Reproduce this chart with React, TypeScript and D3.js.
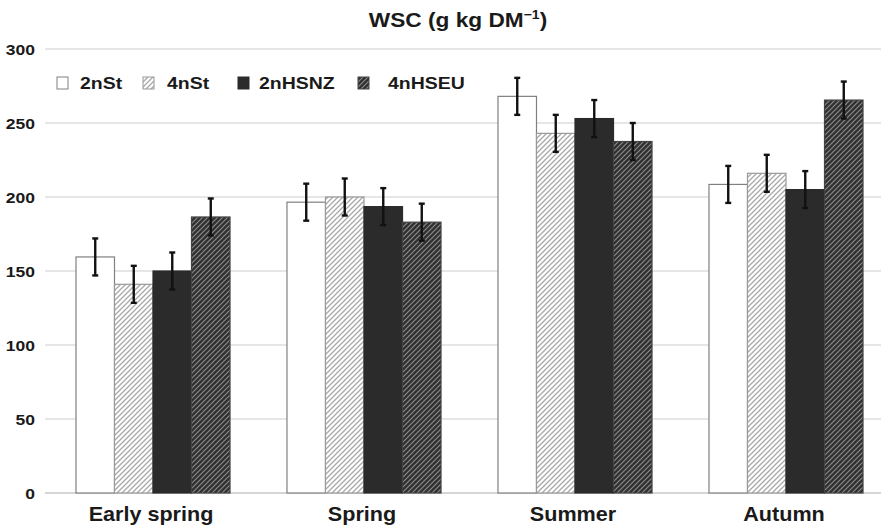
import { useEffect, useRef } from "react"
import * as d3 from "d3"

const categories = ["Early spring", "Spring", "Summer", "Autumn"]
const seriesNames = ["2nSt", "4nSt", "2nHSNZ", "4nHSEU"]
// values per series, in category order
const st2 = [159.5, 196.5, 268, 208.5]
const st4 = [141, 200, 243, 216]
const hsnz2 = [150, 193.5, 253, 205]
const hseu4 = [186.5, 183, 237.5, 265.5]
const errors = [12.5, 12.5, 12.5, 12.5]
const yTicks = [0, 50, 100, 150, 200, 250, 300]

const seriesValues = [st2, st4, hsnz2, hseu4]
const fills = ["#ffffff", "url(#hatchLight)", "#2b2b2b", "url(#hatchDark)"]
const strokes = ["#808080", "#9a9a9a", "#2b2b2b", "#444"]

export default function App() {
  const svgRef = useRef<SVGSVGElement>(null)

  useEffect(() => {
    if (!svgRef.current) return
    const svg = d3.select(svgRef.current)
    svg.selectAll("*").remove()

    const width = 881
    const font = "'Liberation Sans', Arial, sans-serif"

    const defs = svg.append("defs")
    const light = defs
      .append("pattern")
      .attr("id", "hatchLight")
      .attr("patternUnits", "userSpaceOnUse")
      .attr("width", 5)
      .attr("height", 5)
    light.append("rect").attr("width", 5).attr("height", 5).attr("fill", "#ffffff")
    light
      .append("path")
      .attr("d", "M0,5 L5,0 M-1,1 L1,-1 M4,6 L6,4")
      .attr("stroke", "#a8a8a8")
      .attr("stroke-width", 1.3)

    const dark = defs
      .append("pattern")
      .attr("id", "hatchDark")
      .attr("patternUnits", "userSpaceOnUse")
      .attr("width", 5)
      .attr("height", 5)
    dark.append("rect").attr("width", 5).attr("height", 5).attr("fill", "#303030")
    dark
      .append("path")
      .attr("d", "M0,5 L5,0 M-1,1 L1,-1 M4,6 L6,4")
      .attr("stroke", "#8a8a8a")
      .attr("stroke-width", 1.2)

    const x = d3
      .scaleBand<string>()
      .domain(categories)
      .range([47.5, 891.5])
      .paddingInner(0.27)
      .paddingOuter(0.135)

    const xs = d3.scaleBand<string>().domain(seriesNames).range([0, x.bandwidth()])

    const y = d3.scaleLinear().domain([0, 300]).range([493, 49])

    // stretched bold text, like the source image
    const label = (
      parent: d3.Selection<any, any, any, any>,
      tx: number,
      ty: number,
      size: number,
      sx: number,
      anchor: string,
      txt: string
    ) =>
      parent
        .append("text")
        .attr("transform", `translate(${tx},${ty}) scale(${sx},1)`)
        .attr("text-anchor", anchor)
        .attr("font-family", font)
        .attr("font-weight", "bold")
        .attr("font-size", size)
        .attr("fill", "#1a1a1a")
        .text(txt)

    // gridlines
    svg
      .append("g")
      .selectAll("line")
      .data(yTicks)
      .enter()
      .append("line")
      .attr("x1", 45)
      .attr("x2", width)
      .attr("y1", (d) => y(d))
      .attr("y2", (d) => y(d))
      .attr("stroke", (d) => (d === 0 ? "#c8c8c8" : "#dedede"))
      .attr("stroke-width", 1.5)

    // y tick labels
    const yg = svg.append("g")
    yTicks.forEach((t) => label(yg, 35, y(t) + 5.5, 15.5, 1.13, "end", String(t)))

    // bars
    seriesNames.forEach((name, si) => {
      const g = svg.append("g")
      const data = categories.map((c, ci) => ({ c, v: seriesValues[si][ci] }))
      g.selectAll("rect")
        .data(data)
        .enter()
        .append("rect")
        .attr("x", (d) => (x(d.c) as number) + (xs(name) as number))
        .attr("y", (d) => y(d.v))
        .attr("width", xs.bandwidth())
        .attr("height", (d) => y(0) - y(d.v))
        .attr("fill", fills[si])
        .attr("stroke", strokes[si])
        .attr("stroke-width", 1.2)
    })

    // error bars
    seriesNames.forEach((name, si) => {
      const g = svg.append("g").attr("stroke", "#111").attr("stroke-width", 2.4)
      categories.forEach((c, ci) => {
        const cx = (x(c) as number) + (xs(name) as number) + xs.bandwidth() / 2
        const v = seriesValues[si][ci]
        const e = errors[si]
        g.append("line").attr("x1", cx).attr("x2", cx).attr("y1", y(v + e)).attr("y2", y(v - e))
        g.append("line").attr("x1", cx - 3).attr("x2", cx + 3).attr("y1", y(v + e)).attr("y2", y(v + e))
        g.append("line").attr("x1", cx - 3).attr("x2", cx + 3).attr("y1", y(v - e)).attr("y2", y(v - e))
      })
    })

    // category labels
    const cg = svg.append("g")
    categories.forEach((c) =>
      label(cg, (x(c) as number) + x.bandwidth() / 2 - 2, 521, 20, 1.08, "middle", c)
    )

    // title
    const title = label(svg, 458, 27, 21, 1.08, "middle", "")
    title.append("tspan").text("WSC (g kg DM")
    title.append("tspan").attr("font-size", 13).attr("dy", -8).text("−1")
    title.append("tspan").attr("dy", 8).text(")")

    // legend
    const squareX = [57, 143, 238, 358]
    const textX = [80, 167, 259, 388]
    const legend = svg.append("g")
    seriesNames.forEach((name, si) => {
      legend
        .append("rect")
        .attr("x", squareX[si])
        .attr("y", 77)
        .attr("width", 11)
        .attr("height", 12)
        .attr("fill", fills[si])
        .attr("stroke", strokes[si])
        .attr("stroke-width", 1)
      label(legend, textX[si], 89, 16.5, 1.18, "start", name)
    })
  }, [])

  return (
    <svg
      ref={svgRef}
      width={881}
      height={528}
      style={{ position: "absolute", left: 0, top: 0, background: "#fff" }}
    />
  )
}
